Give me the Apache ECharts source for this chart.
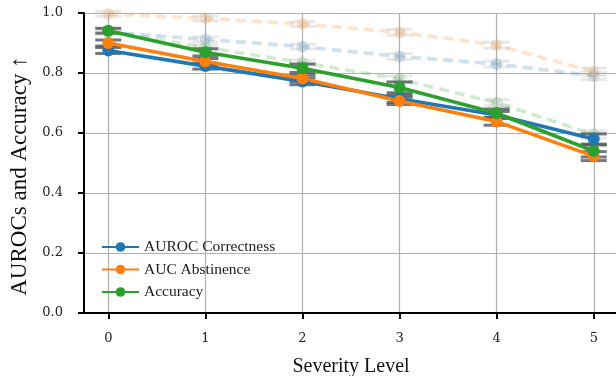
<!DOCTYPE html>
<html>
<head>
<meta charset="utf-8">
<script src="https://cdn.jsdelivr.net/npm/echarts@6/dist/echarts.min.js"></script>
<style>
  html, body { margin: 0; padding: 0; background: #fff; }
  #chart { width: 616px; height: 376px; }
</style>
</head>
<body>
<div id="chart"></div>
<script>
// severity levels
var levels = [0, 1, 2, 3, 4, 5];

// main series (solid)
var aurocCorrectness = [0.875, 0.823, 0.772, 0.714, 0.660, 0.580];
var aucAbstinence = [0.900, 0.838, 0.782, 0.707, 0.638, 0.523];
var accuracy = [0.941, 0.869, 0.816, 0.752, 0.666, 0.540];

// error (half widths) for main series
var aurocCorrectnessErr = [0.010, 0.010, 0.011, 0.012, 0.012, 0.017];
var aucAbstinenceErr = [0.010, 0.010, 0.011, 0.012, 0.012, 0.015];
var accuracyErr = [0.008, 0.012, 0.014, 0.018, 0.014, 0.020];

// reference series (faded, dashed)
var aurocCorrectnessRef = [0.936, 0.912, 0.888, 0.855, 0.830, 0.790];
var aucAbstinenceRef = [0.997, 0.982, 0.963, 0.936, 0.893, 0.804];
var accuracyRef = [0.940, 0.885, 0.835, 0.780, 0.701, 0.595];
var refErr = [0.008, 0.008, 0.008, 0.010, 0.010, 0.012];

var fontSerif = '"Liberation Serif", "DejaVu Serif", serif';
var blue = '#1f77b4', orange = '#ff7f0e', green = '#2ca02c';

var myChart = echarts.init(document.getElementById('chart'));

function pts(vals) {
	return levels.map(function (x, i) { return [x, vals[i]]; });
}
function errData(vals, errs) {
	return levels.map(function (x, i) { return [x, vals[i] - errs[i], vals[i] + errs[i]]; });
}

//误差线
function errSeries(vals, errs, color, z) {
	return {
		type: 'custom',
		xAxisIndex: 0,
		yAxisIndex: 0,
		z: z,
		silent: true,
		data: errData(vals, errs),
		renderItem: function (params, api) {
			var lo = api.coord([api.value(0), api.value(1)]);
			var hi = api.coord([api.value(0), api.value(2)]);
			var hw = 13;
			var st = { stroke: color, lineWidth: 3 };
			return {
				type: 'group',
				children: [
					{ type: 'line', shape: { x1: lo[0], y1: lo[1], x2: hi[0], y2: hi[1] }, style: st },
					{ type: 'line', shape: { x1: lo[0] - hw, y1: lo[1], x2: lo[0] + hw, y2: lo[1] }, style: st },
					{ type: 'line', shape: { x1: hi[0] - hw, y1: hi[1], x2: hi[0] + hw, y2: hi[1] }, style: st }
				]
			};
		}
	};
}

function solidLine(name, vals, color) {
	return {
		name: name,
		type: 'line',
		xAxisIndex: 0,
		yAxisIndex: 0,
		z: 5,
		data: pts(vals),
		symbol: 'circle',
		symbolSize: 12,
		showSymbol: true,
		lineStyle: { color: color, width: 3.6 },
		itemStyle: { color: color },
		animation: false
	};
}

function fadedLine(name, vals, color) {
	return {
		name: name,
		type: 'line',
		xAxisIndex: 0,
		yAxisIndex: 0,
		z: 1,
		data: pts(vals),
		symbol: 'circle',
		symbolSize: 12,
		lineStyle: { color: color, width: 3.6, type: [10, 6], opacity: 0.22 },
		itemStyle: { color: color, opacity: 0.22 },
		animation: false
	};
}

var option = {
	animation: false,
	backgroundColor: '#fff',
	grid: [
		{ left: 84, right: -2, top: 13, bottom: 63, outerBoundsMode: 'none' },
		{ left: 108.3, right: 22.2, top: 13, bottom: 63, outerBoundsMode: 'none' }
	],
	xAxis: [
		{
			type: 'value', gridIndex: 0, min: -0.25, max: 5.25,
			axisLine: { show: true, onZero: false, lineStyle: { color: '#000', width: 2 } },
			axisTick: { show: false },
			axisLabel: { show: false },
			splitLine: { show: false },
			name: 'Severity Level',
			nameLocation: 'middle',
			nameGap: 44,
			nameTextStyle: { fontFamily: fontSerif, fontSize: 20, color: '#111' }
		},
		{
			type: 'value', gridIndex: 1, min: 0, max: 5, interval: 1,
			axisLine: { show: false, onZero: false },
			axisTick: { show: true, inside: false, length: 6, lineStyle: { color: '#000', width: 2 } },
			axisLabel: { margin: 19, fontFamily: '"DejaVu Serif", serif', fontSize: 13, color: '#222' },
			splitLine: { show: true, lineStyle: { color: '#b0b0b0', width: 1.2 } }
		}
	],
	yAxis: [
		{
			type: 'value', gridIndex: 0, min: 0, max: 1, interval: 0.2, position: 'left', offset: 0,
			axisLine: { show: true, onZero: false, lineStyle: { color: '#000', width: 2 } },
			axisTick: { show: true, inside: false, length: 6, lineStyle: { color: '#000', width: 2 } },
			axisLabel: {
				margin: 21, fontFamily: '"DejaVu Serif", serif', fontSize: 13, color: '#222',
				formatter: function (v) { return v.toFixed(1); }
			},
			splitLine: { show: true, lineStyle: { color: '#b0b0b0', width: 1.2 } }
		},
		{
			type: 'value', gridIndex: 1, min: 0, max: 1, show: false,
			axisLine: { show: false, onZero: false }, axisTick: { show: false },
			axisLabel: { show: false }, splitLine: { show: false }
		}
	],
	graphic: [
		{
			type: 'text',
			x: 20,
			y: 176,
			rotation: Math.PI / 2,
			style: {
				text: 'AUROCs and Accuracy \u2191',
				font: '23px ' + fontSerif,
				fill: '#111',
				textAlign: 'center',
				textVerticalAlign: 'middle'
			}
		}
	],
	legend: {
		left: 96,
		top: 233,
		orient: 'vertical',
		itemWidth: 37,
		itemHeight: 12,
		itemGap: 4.5,
		textStyle: { fontFamily: fontSerif, fontSize: 15.5, lineHeight: 18, color: '#222' },
		data: ['AUROC Correctness', 'AUC Abstinence', 'Accuracy']
	},
	series: [
		fadedLine('ref-auroc', aurocCorrectnessRef, blue),
		fadedLine('ref-auc', aucAbstinenceRef, orange),
		fadedLine('ref-acc', accuracyRef, green),
		errSeries(aurocCorrectnessRef, refErr, 'rgba(190,190,190,0.35)', 2),
		errSeries(aucAbstinenceRef, refErr, 'rgba(190,190,190,0.35)', 2),
		errSeries(accuracyRef, refErr, 'rgba(190,190,190,0.35)', 2),
		errSeries(aurocCorrectness, aurocCorrectnessErr, 'rgba(80,86,92,0.8)', 3),
		errSeries(aucAbstinence, aucAbstinenceErr, 'rgba(80,86,92,0.8)', 3),
		errSeries(accuracy, accuracyErr, 'rgba(80,86,92,0.8)', 3),
		solidLine('AUROC Correctness', aurocCorrectness, blue),
		solidLine('AUC Abstinence', aucAbstinence, orange),
		solidLine('Accuracy', accuracy, green)
	]
};

myChart.setOption(option);
</script>
</body>
</html>
